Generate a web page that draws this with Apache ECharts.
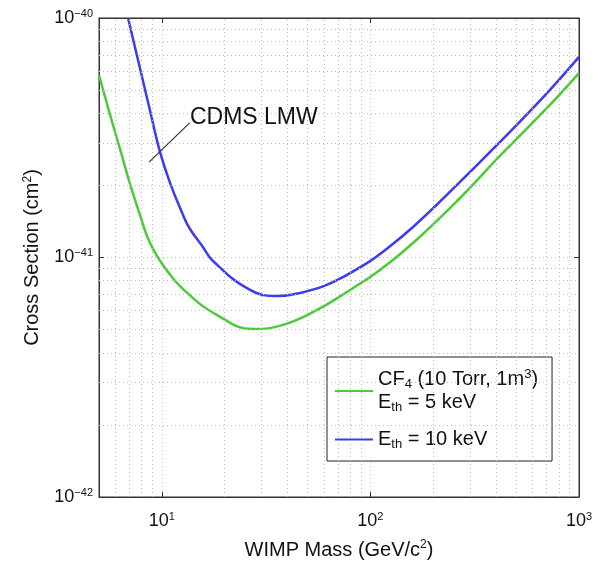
<!DOCTYPE html>
<html><head><meta charset="utf-8">
<script src="https://cdn.jsdelivr.net/npm/echarts@6/dist/echarts.min.js"></script>
<style>html,body{margin:0;padding:0;background:#fff}#c{width:599px;height:565px}#err{position:absolute;left:0;top:0;font:12px monospace;color:red}</style>
</head><body><div id="c"></div><div id="err"></div>
<script>
// Data (mass in GeV/c^2, cross section in cm^2)
const greenMass  = [5, 5.65, 6.38, 7.04, 7.86, 8.78, 10.36, 12.64, 18.4, 27.4, 38.1, 55.5, 79.9, 111.2, 160.1, 268.9, 404.6, 702.5, 1000];
const greenSigma = [5.78e-41, 3.94e-41, 2.74e-41, 2.03e-41, 1.505e-41, 1.15e-41, 9.04e-42, 7.38e-42, 5.75e-42, 5.03e-42, 5.23e-42, 6.04e-42, 7.32e-42, 8.87e-42, 1.15e-41, 1.772e-41, 2.58e-41, 4.21e-41, 5.89e-41];
const blueMass   = [6.89, 8.88, 9.80, 10.95, 12.64, 13.65, 15.59, 17.6, 26.5, 35.7, 46.0, 66.2, 96.3, 111.2, 160.1, 268.9, 404.6, 702.5, 1000];
const blueSigma  = [1e-40, 3.94e-41, 2.76e-41, 2.05e-41, 1.505e-41, 1.315e-41, 1.12e-41, 9.67e-42, 7.32e-42, 6.91e-42, 7.11e-42, 7.90e-42, 9.48e-42, 1.034e-41, 1.341e-41, 2.067e-41, 2.95e-41, 4.86e-41, 6.88e-41];
const xMinorGrid = [6, 7, 8, 9, 20, 30, 40, 50, 60, 70, 80, 90, 200, 300, 400, 500, 600, 700, 800, 900];
const yMinorGrid = [2e-42, 3e-42, 4e-42, 5e-42, 6e-42, 7e-42, 8e-42, 9e-42, 2e-41, 3e-41, 4e-41, 5e-41, 6e-41, 7e-41, 8e-41, 9e-41];
const yRange = [1e-42, 1e-40];
const xRange = [5, 1000];
const seriesNames = ['CF{sub|4} (10 Torr, 1m{sup|3})\nE{sub|th} = 5 keV', 'E{sub|th} = 10 keV'];
const annotationText = 'CDMS LMW';
const annotationAnchor = [13.2, 3.85e-41];
const arrowStart = [13.6, 3.65e-41];
const arrowEnd = [8.69, 2.50e-41];
const xName = 'WIMP Mass (GeV/c{sup|2})';
const yName = 'Cross Section (cm{sup|2})';

// y values are handed to ECharts in units of 1e-42 cm^2 (log axis precision); labels show true powers of ten
const Y_UNIT_EXP = -42;
const ys = v => v / Math.pow(10, Y_UNIT_EXP);

const FONT = '"Liberation Sans", Arial, Helvetica, sans-serif';
const GRID_STYLE = {color: '#bdbdbd', width: 1, type: [1, 3]};

function decadeLabel(v, shift) {
  const e = Math.log10(v);
  const r = Math.round(e);
  if (Math.abs(e - r) > 1e-6) return '';
  const p = r + shift;
  return '{b|10}{sup|' + (p < 0 ? '\u2212' + (-p) : p) + '}';
}
const labelRich = {
  b: {fontSize: 18, fontFamily: FONT, color: '#111', lineHeight: 20},
  sup: {fontSize: 11, fontFamily: FONT, color: '#111', verticalAlign: 'top', lineHeight: 11}
};
const nameRich = {sup: {fontSize: 12, fontFamily: FONT, color: '#111', verticalAlign: 'top', lineHeight: 12}};

try {
const chart = echarts.init(document.getElementById('c'), null, {renderer: 'canvas'});
const option = {
  animation: false,
  backgroundColor: '#fff',
  grid: {left: 99, top: 18, right: 20, bottom: 68, containLabel: false, outerBoundsMode: 'none',
    show: true, borderColor: '#333', borderWidth: 1, backgroundColor: 'transparent'},
  xAxis: [{
    type: 'log', logBase: 10, min: xRange[0], max: xRange[1],
    axisLine: {show: true, lineStyle: {color: '#333', width: 1}},
    axisTick: {show: true, inside: true, length: 5, lineStyle: {color: '#333'}},
    axisLabel: {margin: 14, formatter: v => decadeLabel(v, 0), rich: labelRich},
    splitLine: {show: true, lineStyle: GRID_STYLE},
    name: xName, nameLocation: 'middle', nameGap: 42,
    nameTextStyle: {fontSize: 20, fontFamily: FONT, color: '#111', lineHeight: 22, rich: nameRich}
  }, {
    type: 'log', logBase: 10, min: xRange[0], max: xRange[1], position: 'top',
    axisLine: {show: true, lineStyle: {color: '#333'}},
    axisTick: {show: true, inside: true, length: 5, lineStyle: {color: '#333'}},
    axisLabel: {show: false}, splitLine: {show: false}
  }],
  yAxis: [{
    type: 'log', logBase: 10, min: ys(yRange[0]), max: ys(yRange[1]),
    axisLine: {show: true, lineStyle: {color: '#333', width: 1}},
    axisTick: {show: true, inside: true, length: 5, lineStyle: {color: '#333'}},
    axisLabel: {margin: 6, formatter: v => decadeLabel(v, Y_UNIT_EXP), rich: labelRich},
    splitLine: {show: true, lineStyle: GRID_STYLE},
    name: yName, nameLocation: 'middle', nameGap: 55, nameRotate: 90,
    nameTextStyle: {fontSize: 20, fontFamily: FONT, color: '#111', lineHeight: 22, rich: nameRich}
  }, {
    type: 'log', logBase: 10, min: ys(yRange[0]), max: ys(yRange[1]), position: 'right',
    axisLine: {show: true, lineStyle: {color: '#333'}},
    axisTick: {show: true, inside: true, length: 5, lineStyle: {color: '#333'}},
    axisLabel: {show: false}, splitLine: {show: false}
  }],
  legend: {
    orient: 'vertical', left: 327, top: 357,
    backgroundColor: '#fff', borderColor: '#222', borderWidth: 1,
    padding: [11, 14, 10, 8], itemGap: 14, itemWidth: 38, itemHeight: 2,
    icon: 'rect',
    data: seriesNames,
    textStyle: {
      fontSize: 20, fontFamily: FONT, color: '#111', lineHeight: 23,
      rich: {
        sub: {fontSize: 13, fontFamily: FONT, color: '#111', verticalAlign: 'bottom', lineHeight: 13},
        sup: {fontSize: 13, fontFamily: FONT, color: '#111', verticalAlign: 'top', lineHeight: 13}
      }
    }
  },
  series: [
    {
      name: seriesNames[0], type: 'line', smooth: 0.45, showSymbol: false, symbol: 'none', z: 3,
      color: '#4ccb3a',
      lineStyle: {color: '#4ccb3a', width: 2.5},
      data: greenMass.map((m, i) => [m, ys(greenSigma[i])]),
      markLine: {
        silent: true, symbol: ['none', 'none'], animation: false,
        label: {show: false},
        lineStyle: GRID_STYLE,
        data: xMinorGrid.map(v => ({xAxis: v})).concat(yMinorGrid.map(v => ({yAxis: ys(v)})))
      }
    },
    {
      name: seriesNames[1], type: 'line', smooth: 0.45, showSymbol: false, symbol: 'none', z: 3,
      color: '#3b3cf0',
      lineStyle: {color: '#3b3cf0', width: 2.5},
      data: blueMass.map((m, i) => [m, ys(blueSigma[i])]),
      markLine: {
        silent: true, symbol: ['none', 'arrow'], symbolSize: [0, 11],
        label: {show: false},
        lineStyle: {color: '#333', width: 1.2, type: 'solid'},
        data: [[{coord: [arrowStart[0], ys(arrowStart[1])]}, {coord: [arrowEnd[0], ys(arrowEnd[1])]}]]
      },
      markPoint: {
        silent: true, symbol: 'circle', symbolSize: 0,
        data: [{coord: [annotationAnchor[0], ys(annotationAnchor[1])], value: annotationText,
          label: {show: true, position: 'right', distance: 3, formatter: annotationText,
            fontSize: 23, fontFamily: FONT, color: '#111'}}]
      }
    }
  ]
};
chart.setOption(option);
} catch (e) { document.getElementById('err').textContent = e && e.stack ? e.stack : String(e); }
</script>
</body></html>
